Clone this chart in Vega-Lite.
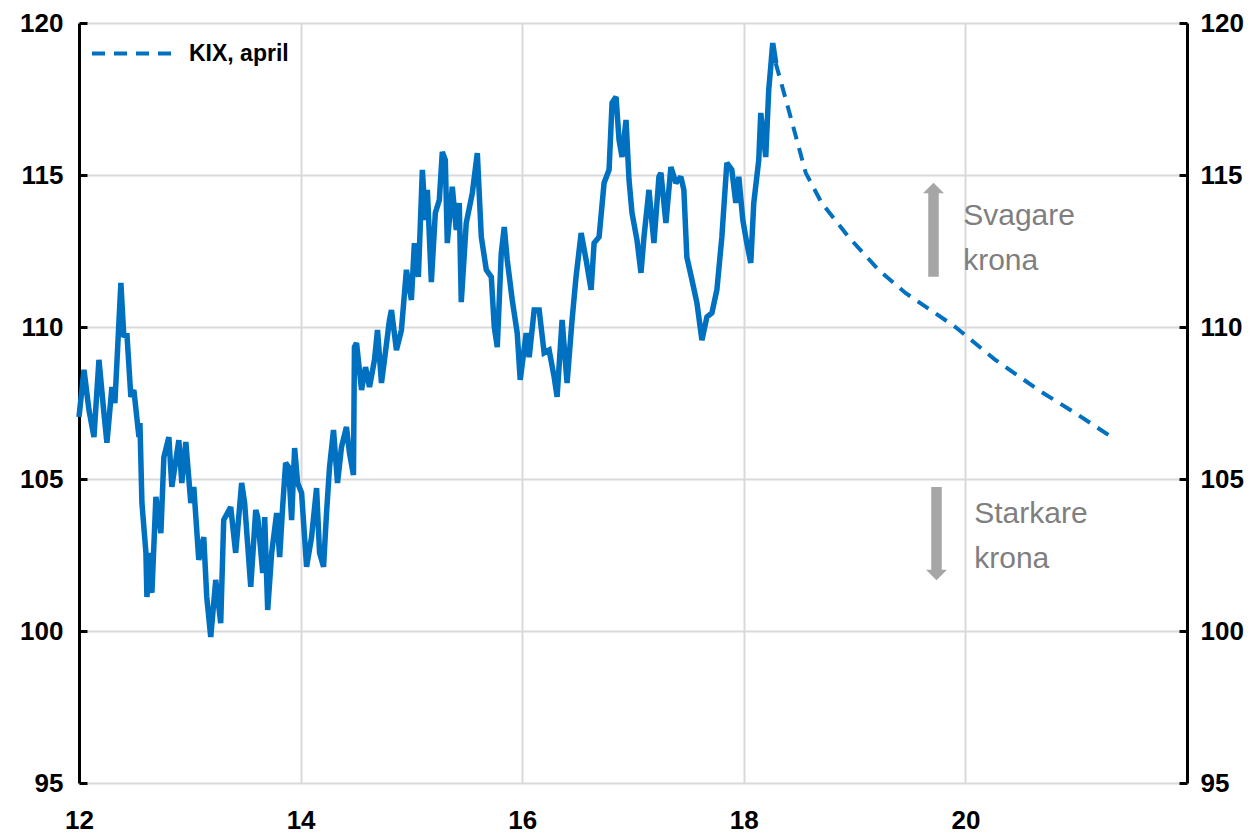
{
  "$schema": "https://vega.github.io/schema/vega-lite/v6.json",
  "width": 1108,
  "height": 760,
  "autosize": "none",
  "padding": {"left": 79, "top": 23, "right": 65, "bottom": 53},
  "background": "white",
  "config": {
    "view": {"stroke": null},
    "font": "Liberation Sans",
    "axis": {"labelFont": "Liberation Sans", "labelFontWeight": "bold", "labelFontSize": 26, "labelColor": "#000000", "gridColor": "#d9d9d9", "gridWidth": 2, "title": null},
    "legend": {"labelFont": "Liberation Sans"}
  },
  "datasets": {
    "hist": [
      {"x": 12.000, "v": 107.04}, {"x": 12.045, "v": 108.59}, {"x": 12.090, "v": 107.27}, {"x": 12.135, "v": 106.38},
      {"x": 12.180, "v": 108.92}, {"x": 12.225, "v": 107.17}, {"x": 12.252, "v": 106.19}, {"x": 12.297, "v": 108.03},
      {"x": 12.324, "v": 107.50}, {"x": 12.378, "v": 111.45}, {"x": 12.405, "v": 109.67}, {"x": 12.432, "v": 109.80},
      {"x": 12.468, "v": 107.70}, {"x": 12.495, "v": 107.93}, {"x": 12.541, "v": 106.38}, {"x": 12.550, "v": 106.84},
      {"x": 12.568, "v": 104.21}, {"x": 12.604, "v": 102.57}, {"x": 12.613, "v": 101.12}, {"x": 12.640, "v": 102.57},
      {"x": 12.658, "v": 101.25}, {"x": 12.694, "v": 104.41}, {"x": 12.739, "v": 103.22}, {"x": 12.766, "v": 105.72},
      {"x": 12.811, "v": 106.38}, {"x": 12.838, "v": 104.74}, {"x": 12.901, "v": 106.28}, {"x": 12.928, "v": 104.87},
      {"x": 12.964, "v": 106.22}, {"x": 13.009, "v": 104.21}, {"x": 13.036, "v": 104.74}, {"x": 13.081, "v": 102.34},
      {"x": 13.126, "v": 103.09}, {"x": 13.153, "v": 101.12}, {"x": 13.189, "v": 99.80}, {"x": 13.234, "v": 101.68},
      {"x": 13.279, "v": 100.26}, {"x": 13.306, "v": 103.65}, {"x": 13.369, "v": 104.08}, {"x": 13.414, "v": 102.57},
      {"x": 13.468, "v": 104.87}, {"x": 13.495, "v": 104.21}, {"x": 13.550, "v": 101.45}, {"x": 13.595, "v": 103.98},
      {"x": 13.613, "v": 103.75}, {"x": 13.658, "v": 101.91}, {"x": 13.676, "v": 103.75}, {"x": 13.703, "v": 100.69},
      {"x": 13.739, "v": 102.57}, {"x": 13.784, "v": 103.88}, {"x": 13.811, "v": 102.43}, {"x": 13.838, "v": 104.08},
      {"x": 13.865, "v": 105.53}, {"x": 13.892, "v": 105.39}, {"x": 13.919, "v": 103.65}, {"x": 13.946, "v": 106.02},
      {"x": 13.973, "v": 104.87}, {"x": 14.009, "v": 104.54}, {"x": 14.054, "v": 102.11}, {"x": 14.099, "v": 103.09},
      {"x": 14.144, "v": 104.70}, {"x": 14.171, "v": 102.57}, {"x": 14.207, "v": 102.11}, {"x": 14.234, "v": 103.88},
      {"x": 14.261, "v": 105.39}, {"x": 14.297, "v": 106.61}, {"x": 14.333, "v": 104.87}, {"x": 14.369, "v": 106.05},
      {"x": 14.414, "v": 106.71}, {"x": 14.441, "v": 105.86}, {"x": 14.477, "v": 105.13}, {"x": 14.486, "v": 109.34},
      {"x": 14.505, "v": 109.47}, {"x": 14.550, "v": 107.93}, {"x": 14.586, "v": 108.68}, {"x": 14.622, "v": 108.03},
      {"x": 14.667, "v": 108.92}, {"x": 14.694, "v": 109.90}, {"x": 14.730, "v": 108.16}, {"x": 14.757, "v": 108.92},
      {"x": 14.802, "v": 110.23}, {"x": 14.820, "v": 110.56}, {"x": 14.865, "v": 109.24}, {"x": 14.910, "v": 109.90},
      {"x": 14.955, "v": 111.88}, {"x": 15.000, "v": 110.89}, {"x": 15.027, "v": 112.76}, {"x": 15.063, "v": 111.65},
      {"x": 15.099, "v": 115.17}, {"x": 15.126, "v": 113.52}, {"x": 15.144, "v": 114.51}, {"x": 15.180, "v": 111.48},
      {"x": 15.216, "v": 113.75}, {"x": 15.252, "v": 114.18}, {"x": 15.279, "v": 115.76}, {"x": 15.306, "v": 115.49},
      {"x": 15.324, "v": 112.76}, {"x": 15.369, "v": 114.61}, {"x": 15.405, "v": 113.19}, {"x": 15.432, "v": 114.08},
      {"x": 15.450, "v": 110.82}, {"x": 15.495, "v": 113.42}, {"x": 15.550, "v": 114.41}, {"x": 15.595, "v": 115.72},
      {"x": 15.631, "v": 112.96}, {"x": 15.676, "v": 111.88}, {"x": 15.721, "v": 111.65}, {"x": 15.748, "v": 110.00},
      {"x": 15.775, "v": 109.34}, {"x": 15.811, "v": 112.43}, {"x": 15.838, "v": 113.29}, {"x": 15.865, "v": 112.20},
      {"x": 15.910, "v": 110.89}, {"x": 15.955, "v": 109.80}, {"x": 15.982, "v": 108.26}, {"x": 16.036, "v": 109.80},
      {"x": 16.063, "v": 109.01}, {"x": 16.108, "v": 110.56}, {"x": 16.153, "v": 110.56}, {"x": 16.198, "v": 109.15},
      {"x": 16.243, "v": 109.24}, {"x": 16.288, "v": 108.36}, {"x": 16.315, "v": 107.70}, {"x": 16.360, "v": 110.23},
      {"x": 16.405, "v": 108.16}, {"x": 16.450, "v": 110.23}, {"x": 16.486, "v": 111.65}, {"x": 16.532, "v": 113.09},
      {"x": 16.577, "v": 112.20}, {"x": 16.622, "v": 111.22}, {"x": 16.649, "v": 112.76}, {"x": 16.694, "v": 112.96},
      {"x": 16.739, "v": 114.74}, {"x": 16.784, "v": 115.17}, {"x": 16.811, "v": 117.37}, {"x": 16.847, "v": 117.57},
      {"x": 16.874, "v": 116.15}, {"x": 16.901, "v": 115.59}, {"x": 16.937, "v": 116.81}, {"x": 16.964, "v": 114.84},
      {"x": 16.991, "v": 113.75}, {"x": 17.036, "v": 112.86}, {"x": 17.072, "v": 111.78}, {"x": 17.099, "v": 112.96},
      {"x": 17.144, "v": 114.51}, {"x": 17.189, "v": 112.76}, {"x": 17.234, "v": 114.94}, {"x": 17.252, "v": 115.07},
      {"x": 17.297, "v": 113.42}, {"x": 17.342, "v": 115.26}, {"x": 17.387, "v": 114.74}, {"x": 17.432, "v": 114.94},
      {"x": 17.459, "v": 114.51}, {"x": 17.486, "v": 112.30}, {"x": 17.532, "v": 111.55}, {"x": 17.577, "v": 110.79},
      {"x": 17.622, "v": 109.57}, {"x": 17.667, "v": 110.33}, {"x": 17.712, "v": 110.46}, {"x": 17.757, "v": 111.22},
      {"x": 17.802, "v": 112.96}, {"x": 17.847, "v": 115.40}, {"x": 17.892, "v": 115.17}, {"x": 17.928, "v": 114.08},
      {"x": 17.955, "v": 114.94}, {"x": 17.991, "v": 113.52}, {"x": 18.027, "v": 112.76}, {"x": 18.063, "v": 112.11},
      {"x": 18.090, "v": 114.08}, {"x": 18.135, "v": 115.49}, {"x": 18.153, "v": 117.04}, {"x": 18.198, "v": 115.59},
      {"x": 18.225, "v": 117.80}, {"x": 18.243, "v": 118.55}, {"x": 18.261, "v": 119.34}, {"x": 18.288, "v": 118.68}
    ],
    "fc": [
      {"x": 18.288, "v": 118.68, "series": "KIX, april"},
      {"x": 18.405, "v": 117.14, "series": "KIX, april"},
      {"x": 18.559, "v": 115.07, "series": "KIX, april"},
      {"x": 18.703, "v": 114.08, "series": "KIX, april"},
      {"x": 18.946, "v": 112.96, "series": "KIX, april"},
      {"x": 19.216, "v": 111.88, "series": "KIX, april"},
      {"x": 19.459, "v": 111.12, "series": "KIX, april"},
      {"x": 19.910, "v": 110.00, "series": "KIX, april"},
      {"x": 20.270, "v": 108.92, "series": "KIX, april"},
      {"x": 20.658, "v": 107.93, "series": "KIX, april"},
      {"x": 20.991, "v": 107.17, "series": "KIX, april"},
      {"x": 21.333, "v": 106.35, "series": "KIX, april"}
    ],
    "notes": [
      {"x": 19.98, "v": 113.36, "label": "Svagare"},
      {"x": 19.98, "v": 111.88, "label": "krona"},
      {"x": 20.08, "v": 103.55, "label": "Starkare"},
      {"x": 20.08, "v": 102.07, "label": "krona"}
    ],
    "shafts": [
      {"x": 19.712, "v": 111.65, "v2": 114.45},
      {"x": 19.739, "v": 101.95, "v2": 104.74}
    ],
    "headsUp": [{"x": 19.712, "v": 114.57}],
    "headsDown": [{"x": 19.739, "v": 101.84}]
  },
  "layer": [
    {
      "data": {"name": "hist"},
      "mark": {"type": "line", "color": "#0070C0", "strokeWidth": 5.5, "strokeJoin": "miter", "strokeMiterLimit": 2},
      "encoding": {
        "x": {"field": "x", "type": "quantitative",
          "scale": {"domain": [12, 22], "nice": false, "zero": false},
          "axis": {"values": [12, 14, 16, 18, 20], "format": "d", "grid": true, "domain": false, "ticks": false, "labelPadding": 24, "labelBaseline": "top", "labelFlush": false}},
        "y": {"field": "v", "type": "quantitative",
          "scale": {"domain": [95, 120], "nice": false, "zero": false},
          "axis": {"orient": "left", "values": [95, 100, 105, 110, 115, 120], "grid": true, "domain": true, "domainColor": "#000000", "domainWidth": 3,
            "ticks": true, "tickColor": "#000000", "tickWidth": 3, "tickSize": -8, "labelPadding": 24, "labelFlush": false}}
      }
    },
    {
      "data": {"name": "fc"},
      "mark": {"type": "line", "strokeWidth": 4, "strokeDash": [13, 9]},
      "encoding": {
        "x": {"field": "x", "type": "quantitative"},
        "y": {"field": "v", "type": "quantitative",
          "axis": {"orient": "right", "values": [95, 100, 105, 110, 115, 120], "grid": false, "domain": true, "domainColor": "#000000", "domainWidth": 3,
            "ticks": true, "tickColor": "#000000", "tickWidth": 3, "tickSize": -8, "labelPadding": 21, "labelFlush": false}},
        "color": {"field": "series", "type": "nominal",
          "scale": {"domain": ["KIX, april"], "range": ["#0070C0"]},
          "legend": {"title": null, "orient": "none", "legendX": 11, "legendY": -13, "symbolType": "stroke", "symbolSize": 6889,
            "symbolStrokeWidth": 4, "symbolDash": [13, 9], "labelFontSize": 23, "labelFontWeight": "bold", "labelColor": "#000000", "labelOffset": 12, "padding": 0}}
      }
    },
    {
      "data": {"name": "shafts"},
      "mark": {"type": "rule", "color": "#a6a6a6", "strokeWidth": 10.5, "strokeCap": "butt"},
      "encoding": {
        "x": {"field": "x", "type": "quantitative"},
        "y": {"field": "v", "type": "quantitative", "axis": null},
        "y2": {"field": "v2"}
      }
    },
    {
      "data": {"name": "headsUp"},
      "mark": {"type": "point", "shape": "M-1,0.5L0,-0.5L1,0.5Z", "size": 441, "filled": true, "color": "#a6a6a6", "opacity": 1},
      "encoding": {
        "x": {"field": "x", "type": "quantitative"},
        "y": {"field": "v", "type": "quantitative", "axis": null}
      }
    },
    {
      "data": {"name": "headsDown"},
      "mark": {"type": "point", "shape": "M-1,-0.5L0,0.5L1,-0.5Z", "size": 441, "filled": true, "color": "#a6a6a6", "opacity": 1},
      "encoding": {
        "x": {"field": "x", "type": "quantitative"},
        "y": {"field": "v", "type": "quantitative", "axis": null}
      }
    },
    {
      "data": {"name": "notes"},
      "mark": {"type": "text", "align": "left", "baseline": "alphabetic", "fontSize": 30, "color": "#7f7f7f", "font": "Liberation Sans"},
      "encoding": {
        "x": {"field": "x", "type": "quantitative"},
        "y": {"field": "v", "type": "quantitative", "axis": null},
        "text": {"field": "label", "type": "nominal"}
      }
    }
  ],
  "resolve": {"axis": {"y": "independent"}}
}
